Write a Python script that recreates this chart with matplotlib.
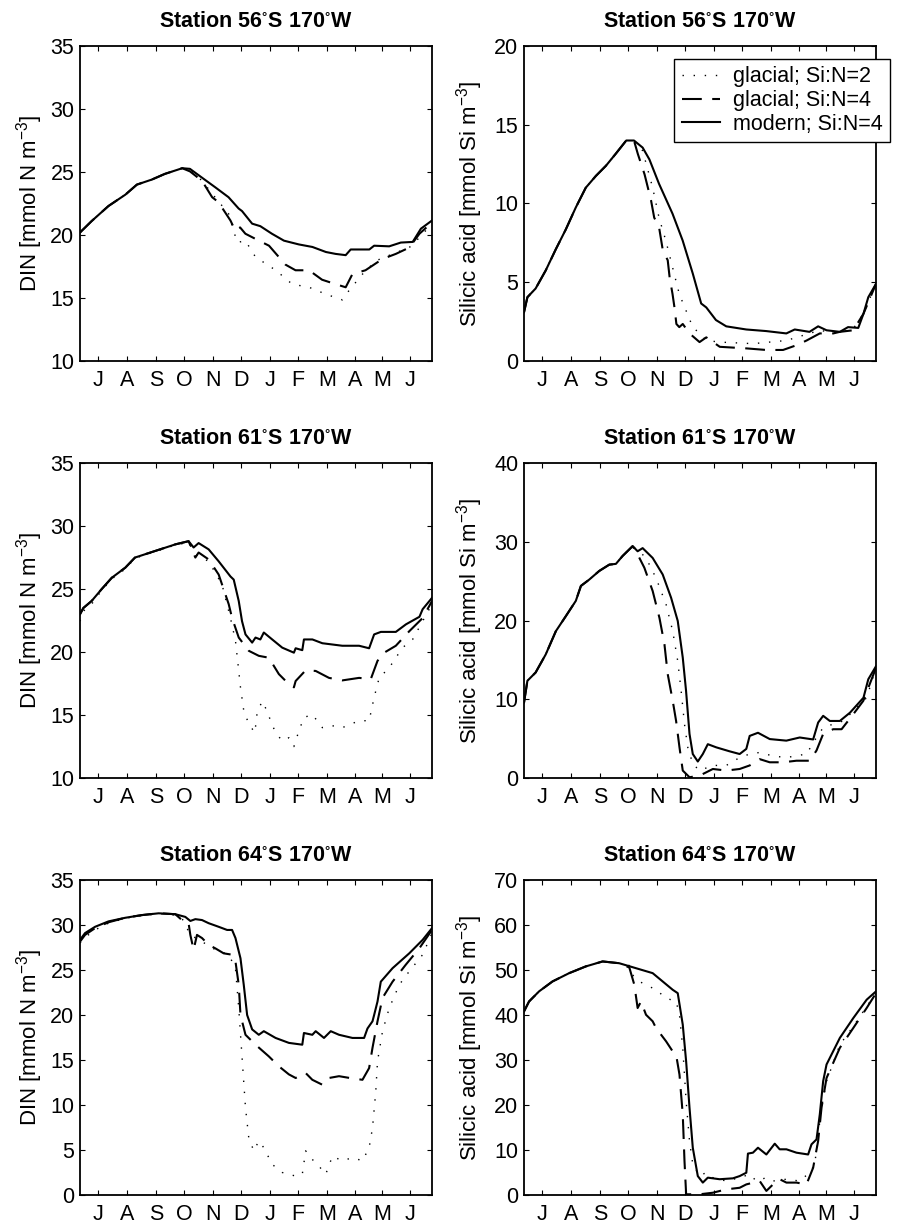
import matplotlib
matplotlib.use('Agg')
import matplotlib.pyplot as plt

# fuentes tipo Helvetica como en el original de MATLAB
plt.rcParams['font.family'] = ['Liberation Sans', 'DejaVu Sans']
plt.rcParams['mathtext.fontset'] = 'custom'
plt.rcParams['mathtext.rm'] = 'Liberation Sans'
plt.rcParams['mathtext.default'] = 'regular'

# ---------------- datos (dia del año modelo, 0-365) ----------------
month_ticks = [19, 49, 79, 108, 138, 167, 197, 226, 256, 285, 313, 342]
month_labels = ['J', 'A', 'S', 'O', 'N', 'D', 'J', 'F', 'M', 'A', 'M', 'J']
series_labels = ['glacial; Si:N=2', 'glacial; Si:N=4', 'modern; Si:N=4']

# Station 56S - DIN
din56_mod_t = [0, 12, 29.5, 47, 59, 74.5, 88, 106, 114, 126.5, 140, 154, 164.5, 168, 178.5, 187, 199, 211.5,
               227, 241, 255, 265, 275.5, 280.7, 300, 305, 320.6, 332.7, 345, 353.5, 365]
din56_mod_v = [20.2, 21.1, 22.3, 23.2, 24.0, 24.4, 24.85, 25.3, 25.25, 24.55, 23.8, 23.0, 22.1, 21.9, 20.9, 20.7,
               20.1, 19.55, 19.25, 19.05, 18.65, 18.5, 18.4, 18.85, 18.85, 19.15, 19.1, 19.4, 19.45, 20.5, 21.15]
din56_g4_t = [0, 12, 29.5, 47, 59, 74.5, 88, 106, 114, 126.5, 137, 142, 147, 156, 161, 166, 171.5, 185.5, 196,
              213, 223.5, 237.5, 251, 265, 275.5, 282.5, 296, 313.7, 327.5, 341.4, 352, 365]
din56_g4_v = [20.2, 21.1, 22.3, 23.2, 24.0, 24.4, 24.85, 25.3, 25.05, 24.3, 23.0, 22.7, 22.2, 21.15, 20.35, 20.6,
              20.1, 19.55, 19.15, 17.65, 17.2, 17.2, 16.45, 16.1, 15.85, 16.9, 17.2, 18.1, 18.5, 19.0, 20.1, 21.0]
din56_g2_t = [0, 12, 29.5, 47, 59, 74.5, 88, 106, 114, 126.5, 140, 154, 163, 171.5, 182, 203, 220, 237.5, 255,
              272, 279, 293, 306.7, 327.5, 341.4, 352, 365]
din56_g2_v = [20.2, 21.1, 22.3, 23.2, 24.0, 24.4, 24.85, 25.3, 25.2, 24.3, 23.0, 21.7, 19.4, 19.55, 18.25, 17.2,
              16.1, 15.85, 15.3, 14.85, 15.6, 16.9, 17.95, 18.6, 19.0, 19.8, 20.9]

# Station 56S - silicato
si56_mod_t = [0, 3.5, 12, 22.5, 33, 43.3, 53.7, 64, 74.5, 85, 95, 106, 114, 123, 130, 140, 154, 164.5, 175, 183.7,
              189, 199, 209.7, 230.5, 251, 272, 280.7, 296, 305, 313.7, 327.5, 336, 346.6, 352, 357, 365]
si56_mod_v = [3.1, 4.05, 4.6, 5.75, 7.1, 8.35, 9.75, 11.0, 11.75, 12.4, 13.15, 14.0, 14.0, 13.55, 12.8, 11.25, 9.35,
              7.65, 5.55, 3.65, 3.4, 2.6, 2.2, 2.0, 1.9, 1.75, 2.0, 1.85, 2.2, 1.95, 1.85, 2.15, 2.1, 3.0, 4.05, 4.9]
si56_g4_t = [0, 3.5, 12, 22.5, 33, 43.3, 53.7, 64, 74.5, 85, 95, 106, 114, 118, 125, 131.7, 135, 140, 144, 149,
             151, 154, 156, 158, 161, 164.6, 171.6, 182, 189, 203, 230.5, 251, 268.6, 282.5, 293, 306.7, 320.6,
             327.5, 341.4, 352, 365]
si56_g4_v = [3.1, 4.05, 4.6, 5.75, 7.1, 8.35, 9.75, 11.0, 11.75, 12.4, 13.15, 14.0, 14.0, 13.15, 11.85, 10.2, 9.1,
             8.5, 7.0, 6.4, 5.3, 4.25, 3.4, 2.35, 2.15, 2.35, 1.75, 1.2, 1.5, 0.9, 0.8, 0.7, 0.7, 1.0, 1.3, 1.75,
             1.75, 1.85, 1.95, 3.0, 4.9]
si56_g2_t = [0, 3.5, 12, 22.5, 33, 43.3, 53.7, 64, 74.5, 85, 95, 106, 114, 123, 133.4, 140, 147, 154, 161, 168,
             175, 182, 189, 203, 237.4, 272, 296, 306.7, 324, 341.4, 352, 365]
si56_g2_v = [3.1, 4.05, 4.6, 5.75, 7.1, 8.35, 9.75, 11.0, 11.75, 12.4, 13.15, 14.0, 14.0, 13.35, 11.0, 9.1, 7.65,
             5.95, 4.25, 3.2, 2.15, 1.75, 1.3, 1.2, 1.1, 1.3, 1.75, 1.95, 1.75, 2.05, 3.0, 4.9]

# Station 61S - DIN
din61_mod_t = [0, 3.5, 12, 22.5, 33, 47, 57, 71, 85, 99, 112.6, 117.8, 123, 133.4, 143.8, 156, 159.4, 164.6, 168,
               171.6, 178.5, 182, 187, 190.6, 199.3, 209.7, 221.8, 223.6, 230.5, 232.2, 241, 251.3, 272, 289.4,
               299.8, 305, 312, 327.5, 338, 352, 355.3, 365]
din61_mod_v = [23.0, 23.5, 24.05, 25.0, 25.9, 26.7, 27.5, 27.85, 28.2, 28.55, 28.8, 28.3, 28.65, 28.15, 27.2, 26.0,
               25.75, 24.05, 22.45, 21.4, 20.75, 21.15, 21.0, 21.55, 21.0, 20.35, 19.95, 20.3, 20.15, 21.0, 21.0,
               20.7, 20.5, 20.5, 20.3, 21.4, 21.6, 21.6, 22.2, 22.8, 23.4, 24.3]
din61_g4_t = [0, 3.5, 12, 22.5, 33, 47, 57, 71, 85, 99, 112.6, 119.6, 123, 133.4, 143.8, 154.2, 157.7, 164.6, 175,
              185.4, 195.8, 206.2, 216.6, 221.8, 223.6, 234, 244.4, 258.2, 272, 289.4, 301.5, 308.5, 315.4, 327.5,
              341.4, 355.3, 365]
din61_g4_v = [23.0, 23.5, 24.05, 25.0, 25.9, 26.7, 27.5, 27.85, 28.2, 28.55, 28.8, 27.5, 27.9, 27.35, 26.15, 23.8,
              22.7, 21.15, 20.1, 19.7, 19.55, 18.25, 17.45, 17.2, 17.7, 18.55, 18.5, 17.95, 17.75, 17.95, 17.85,
              19.3, 19.95, 20.5, 21.65, 22.7, 24.05]
din61_g2_t = [0, 3.5, 12, 22.5, 33, 47, 57, 71, 85, 99, 112.6, 119.6, 133.4, 147.3, 156, 161.2, 163.9, 166.4,
              169.8, 175, 181.3, 183.7, 188.9, 194.1, 197.6, 202.8, 209.7, 216.6, 221.8, 227, 232.2, 240.9, 251.3,
              261.7, 272, 289.4, 299.8, 305, 310.2, 320.6, 334.5, 344.9, 355.3, 365]
din61_g2_v = [22.45, 23.25, 23.8, 24.9, 25.8, 26.6, 27.45, 27.8, 28.15, 28.5, 28.7, 27.75, 27.2, 25.35, 22.7, 20.9,
              19.0, 17.2, 15.35, 14.3, 13.6, 15.2, 16.1, 15.3, 14.55, 13.6, 12.95, 13.2, 12.5, 13.75, 14.8, 15.05,
              14.0, 14.15, 14.0, 14.55, 14.55, 16.4, 17.95, 18.75, 20.35, 21.0, 22.45, 23.8]

# Station 61S - silicato
si61_mod_t = [0, 3.5, 12, 22.5, 33, 43.3, 53.7, 59, 67.6, 78, 88.4, 95.3, 102.2, 112.6, 117.8, 123, 133.4, 143.8,
              152.5, 159.4, 164.6, 168, 171.6, 175, 180.2, 185.4, 190.6, 199.3, 213, 223.6, 230.5, 234, 242.6,
              254.8, 272, 285.9, 299.8, 305, 310.2, 317.1, 327.5, 338, 352, 357, 365]
si61_mod_v = [9.6, 12.35, 13.4, 15.7, 18.65, 20.55, 22.5, 24.4, 25.2, 26.3, 27.1, 27.2, 28.2, 29.45, 28.8, 29.2,
              27.95, 25.85, 22.9, 19.95, 15.3, 11.1, 5.6, 3.05, 2.1, 3.05, 4.3, 3.9, 3.4, 3.05, 3.7, 5.35, 5.75,
              4.95, 4.75, 5.15, 4.9, 7.05, 7.9, 7.25, 7.25, 8.3, 10.2, 12.55, 14.2]
si61_g4_t = [0, 3.5, 12, 22.5, 33, 43.3, 53.7, 59, 67.6, 78, 88.4, 95.3, 102.2, 112.6, 117.8, 124.8, 133.4, 140.4,
             145.6, 149, 154.2, 157.7, 161.2, 164.6, 171.6, 182, 195.8, 209.7, 223.6, 234, 244.4, 254.8, 268.6,
             282.5, 296.3, 303.3, 310.2, 320.6, 329.3, 341.4, 351.8, 365]
si61_g4_v = [9.6, 12.35, 13.4, 15.7, 18.65, 20.55, 22.5, 24.4, 25.2, 26.3, 27.1, 27.2, 28.2, 29.45, 28.4, 26.7,
             23.75, 20.35, 17.0, 13.2, 9.8, 7.25, 3.9, 0.95, 0.1, 0.3, 1.15, 0.95, 1.15, 1.6, 2.4, 2.0, 2.0, 2.2,
             2.2, 3.5, 5.6, 6.2, 6.2, 8.1, 9.8, 14.0]
si61_g2_t = [0, 3.5, 12, 22.5, 33, 43.3, 53.7, 59, 67.6, 78, 88.4, 95.3, 102.2, 112.6, 117.8, 126.5, 136.9, 147.3,
             154.2, 159.4, 162.9, 166.4, 169.8, 175, 182, 195.8, 209.7, 223.6, 234, 244.4, 258.2, 272, 292.9,
             303.3, 310.2, 320.6, 331, 341.4, 355.3, 365]
si61_g2_v = [9.6, 12.35, 13.4, 15.7, 18.65, 20.55, 22.5, 24.4, 25.2, 26.3, 27.1, 27.2, 28.2, 29.45, 29.0, 27.95,
             25.4, 22.05, 18.65, 14.85, 11.1, 6.85, 3.9, 1.8, 0.95, 1.6, 1.6, 2.6, 3.05, 3.25, 2.8, 2.6, 3.05,
             5.15, 6.4, 6.85, 7.25, 8.5, 10.2, 14.0]

# Station 64S - DIN
din64_mod_t = [0, 5.2, 15.6, 29.5, 46.8, 64.1, 81.5, 98.8, 109.2, 114.4, 119.6, 126.5, 133.4, 143.8, 152.5, 157.7,
               161.2, 166.4, 169.8, 173.3, 178.5, 185.4, 190.6, 202.8, 216.6, 230.5, 232.2, 240.9, 244.4, 253,
               260, 268.6, 282.5, 294.6, 298.1, 303.3, 305, 308.5, 311.9, 324.1, 341.4, 355.3, 365]
din64_mod_v = [28.35, 29.1, 29.8, 30.4, 30.8, 31.1, 31.3, 31.2, 30.9, 30.45, 30.65, 30.55, 30.2, 29.8, 29.45, 29.45,
               28.55, 26.3, 23.35, 20.0, 18.4, 17.8, 18.2, 17.45, 16.9, 16.7, 18.0, 17.8, 18.2, 17.45, 18.2, 17.8,
               17.45, 17.45, 18.5, 19.3, 20.0, 21.5, 23.7, 25.2, 26.85, 28.35, 29.65]
din64_g4_t = [0, 5.2, 15.6, 29.5, 46.8, 64.1, 81.5, 98.8, 105.7, 112.6, 114.4, 117.8, 121.3, 126.5, 133.4, 140.4,
              149, 157.7, 161.2, 164.6, 166.4, 171.6, 182, 195.8, 206.2, 216.6, 223.6, 234, 240.9, 251.3, 258.2,
              268.6, 282.5, 292.9, 299.8, 303.3, 308.5, 313.7, 324.1, 337.9, 351.8, 365]
din64_g4_v = [28.15, 28.9, 29.65, 30.3, 30.8, 31.1, 31.3, 31.2, 30.55, 30.2, 28.9, 27.25, 28.9, 28.55, 27.8, 27.4,
              26.85, 26.7, 25.95, 23.35, 20.0, 17.8, 16.7, 15.4, 14.3, 13.4, 13.0, 13.55, 12.8, 12.25, 13.0, 13.2,
              12.95, 12.8, 14.1, 16.35, 19.3, 21.9, 23.7, 25.6, 27.4, 29.45]
din64_g2_t = [0, 8.7, 19, 29.5, 46.8, 64.1, 81.5, 98.8, 105.7, 114.4, 126.5, 140.4, 154.2, 161.2, 164.6, 168.1,
              171.6, 175, 180.2, 185.4, 190.6, 199.3, 209.7, 223.6, 230.5, 234, 240.9, 247.8, 254.8, 261.7, 272.1,
              282.5, 292.9, 299.8, 303.3, 306.7, 308.5, 313.7, 320.6, 331, 341.4, 355.3, 365]
din64_g2_v = [28.0, 28.9, 29.65, 30.2, 30.75, 31.05, 31.25, 31.1, 30.75, 28.9, 28.15, 27.25, 26.7, 25.2, 20.75,
              15.2, 9.7, 6.35, 4.9, 6.0, 5.25, 3.4, 2.5, 2.1, 2.3, 4.9, 3.95, 3.2, 2.3, 4.3, 3.8, 4.15, 3.8, 5.25,
              7.45, 11.5, 14.85, 18.2, 20.75, 23.35, 24.85, 26.7, 29.1]

# Station 64S - silicato
si64_mod_t = [0, 5.2, 15.6, 29.5, 46.8, 64.1, 81.5, 98.8, 116.1, 133.4, 143.8, 154.2, 159.4, 164.6, 168.1, 171.6,
              175, 180.2, 185.4, 190.6, 202.8, 216.6, 223.6, 230.5, 232.2, 237.4, 242.6, 251.3, 260, 265.1, 272.1,
              282.5, 294.6, 298.1, 303.3, 306.7, 310.2, 313.7, 327.5, 341.4, 355.3, 365]
si64_mod_v = [40.8, 43.0, 45.25, 47.45, 49.3, 50.8, 51.9, 51.5, 50.4, 49.3, 47.45, 45.6, 44.85, 37.85, 29.7, 19.4,
              10.5, 4.2, 2.75, 3.85, 3.5, 3.7, 4.2, 4.95, 9.2, 9.4, 10.5, 9.0, 11.4, 10.15, 10.15, 9.4, 9.0, 11.25,
              12.35, 17.9, 25.3, 29.0, 34.9, 39.3, 43.4, 45.25]
si64_g4_t = [0, 5.2, 15.6, 29.5, 46.8, 64.1, 81.5, 98.8, 109.2, 114.4, 117.8, 121.3, 126.5, 133.4, 136.9, 147.3,
             154.2, 157.7, 161.2, 164.6, 166.4, 168.1, 182, 195.8, 209.7, 223.6, 230.5, 244.4, 251.3, 258.2, 265.1,
             272.1, 282.5, 292.9, 299.8, 305, 308.5, 313.7, 327.5, 341.4, 355.3, 365]
si64_g4_v = [40.8, 43.0, 45.25, 47.45, 49.3, 50.8, 51.9, 51.5, 50.55, 46.7, 41.55, 43.0, 40.05, 38.6, 37.1, 34.15,
             31.9, 31.2, 26.75, 17.9, 7.55, 0.15, 0.15, 0.5, 1.25, 1.6, 2.35, 3.1, 0.9, 2.35, 3.5, 2.75, 2.75, 2.35,
             6.05, 12.0, 19.4, 26.0, 32.7, 37.1, 41.55, 44.85]
si64_g2_t = [0, 5.2, 15.6, 29.5, 46.8, 64.1, 81.5, 98.8, 109.2, 112.6, 119.6, 126.5, 136.9, 147.3, 157.7, 161.2,
             164.6, 168.1, 171.6, 175, 182, 188.9, 195.8, 209.7, 223.6, 234, 240.9, 251.3, 258.2, 272.1, 285.9,
             296.3, 301.5, 305, 308.5, 313.7, 327.5, 341.4, 355.3, 365]
si64_g2_v = [40.8, 43.0, 45.25, 47.45, 49.3, 50.8, 51.9, 51.5, 51.0, 48.9, 47.45, 46.7, 45.6, 43.75, 43.0, 40.05,
             32.7, 20.85, 12.0, 6.8, 4.2, 5.0, 3.85, 3.1, 3.85, 4.6, 3.1, 3.85, 3.1, 3.5, 3.1, 5.0, 6.8, 13.45,
             19.4, 25.3, 33.4, 37.45, 41.9, 44.85]

# ---------------- estilo de las lineas ----------------
style_g2 = dict(color='black', lw=1.0, linestyle=(0, (1, 7)))
style_g4 = dict(color='black', lw=1.5, linestyle=(0, (9.5, 5)))
style_mod = dict(color='black', lw=1.5, linestyle='-')

DIN_LABEL = 'DIN [mmol N m$^{-3}$]'
SI_LABEL = 'Silicic acid [mmol Si m$^{-3}$]'
FS_TICK = 15.5
FS_LABEL = 16
FS_TITLE = 15.5


def dibujar_panel(fig, rect, titulo, ylabel, ylim, yticks, g2, g4, mod, label_x):
    ax = fig.add_axes(rect)
    ax.plot(g2[0], g2[1], label=series_labels[0], **style_g2)
    ax.plot(g4[0], g4[1], label=series_labels[1], **style_g4)
    ax.plot(mod[0], mod[1], label=series_labels[2], **style_mod)
    ax.set_xlim(0, 365)
    ax.set_ylim(*ylim)
    ax.set_yticks(yticks)
    ax.set_xticks(month_ticks)
    ax.set_xticklabels(month_labels)
    ax.tick_params(direction='in', top=True, right=True, length=3.6, width=0.8, labelsize=FS_TICK)
    ax.tick_params(axis='x', pad=6.5)
    ax.tick_params(axis='y', pad=4)
    for sp in ax.spines.values():
        sp.set_linewidth(1.3)
    ax.set_title(titulo, fontsize=FS_TITLE, fontweight='bold', pad=13.5)
    ax.set_ylabel(ylabel, fontsize=FS_LABEL)
    ax.yaxis.set_label_coords(label_x, 0.5)
    return ax


fig = plt.figure(figsize=(8.97, 12.27), dpi=100)

x_izq, x_der, ancho, alto = 0.0892, 0.5842, 0.3924, 0.2567
filas = [0.7058, 0.3659, 0.0261]

dibujar_panel(fig, [x_izq, filas[0], ancho, alto], r'Station 56$^{\circ}$S 170$^{\circ}$W', DIN_LABEL,
              (10, 35), range(10, 36, 5), (din56_g2_t, din56_g2_v), (din56_g4_t, din56_g4_v),
              (din56_mod_t, din56_mod_v), -0.1)
ax2 = dibujar_panel(fig, [x_der, filas[0], ancho, alto], r'Station 56$^{\circ}$S 170$^{\circ}$W', SI_LABEL,
                    (0, 20), range(0, 21, 5), (si56_g2_t, si56_g2_v), (si56_g4_t, si56_g4_v),
                    (si56_mod_t, si56_mod_v), -0.112)
dibujar_panel(fig, [x_izq, filas[1], ancho, alto], r'Station 61$^{\circ}$S 170$^{\circ}$W', DIN_LABEL,
              (10, 35), range(10, 36, 5), (din61_g2_t, din61_g2_v), (din61_g4_t, din61_g4_v),
              (din61_mod_t, din61_mod_v), -0.1)
dibujar_panel(fig, [x_der, filas[1], ancho, alto], r'Station 61$^{\circ}$S 170$^{\circ}$W', SI_LABEL,
              (0, 40), range(0, 41, 10), (si61_g2_t, si61_g2_v), (si61_g4_t, si61_g4_v),
              (si61_mod_t, si61_mod_v), -0.112)
dibujar_panel(fig, [x_izq, filas[2], ancho, alto], r'Station 64$^{\circ}$S 170$^{\circ}$W', DIN_LABEL,
              (0, 35), range(0, 36, 5), (din64_g2_t, din64_g2_v), (din64_g4_t, din64_g4_v),
              (din64_mod_t, din64_mod_v), -0.1)
dibujar_panel(fig, [x_der, filas[2], ancho, alto], r'Station 64$^{\circ}$S 170$^{\circ}$W', SI_LABEL,
              (0, 70), range(0, 71, 10), (si64_g2_t, si64_g2_v), (si64_g4_t, si64_g4_v),
              (si64_mod_t, si64_mod_v), -0.112)

# leyenda solo en el panel de arriba a la derecha (el marco se sale un poco, como en el original)
leg = ax2.legend(loc='upper left', bbox_to_anchor=(0.426, 0.959), borderaxespad=0, fontsize=15.5,
                 frameon=True, fancybox=False, framealpha=1, edgecolor='black', handlelength=1.8,
                 handletextpad=0.6, borderpad=0.35, labelspacing=0.12)
leg.get_frame().set_linewidth(1.0)

fig.savefig('out.png', dpi=100)
